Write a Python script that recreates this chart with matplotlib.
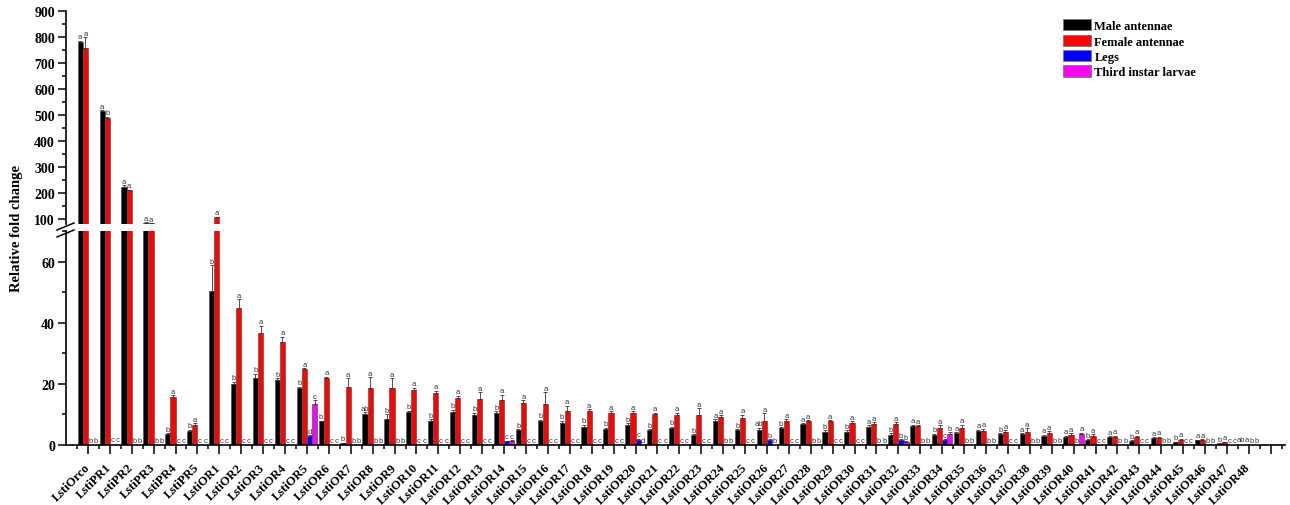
import numpy as np
import matplotlib
matplotlib.use('Agg')
import matplotlib.pyplot as plt
from matplotlib.patches import Patch
from matplotlib.lines import Line2D
from matplotlib.ticker import MultipleLocator

plt.rcParams['font.family'] = 'Liberation Serif'
plt.rcParams['font.weight'] = 'bold'

# ----------- DATA ------------
genes = (['LstiOrco', 'LstiPR1', 'LstiPR2', 'LstiPR3', 'LstiPR4', 'LstiPR5']
         + ['LstiOR%d' % n for n in range(1, 49)])

male = [780, 514, 224, 85, 3.6, 4.7,
        50.3, 20.0, 22.0, 21.3, 18.5, 7.7, 0.5, 10.0, 8.5, 10.7,
        8.0, 10.9, 9.9, 10.5, 4.8, 7.7, 7.2, 6.0, 5.3, 6.6,
        4.8, 5.4, 3.3, 8.0, 4.9, 4.9, 5.5, 6.9, 4.4, 4.4,
        6.0, 3.3, 6.3, 3.3, 3.9, 4.6, 3.5, 3.5, 3.0, 2.7,
        1.6, 2.7, 1.3, 2.4, 0.9, 1.5, 0.5, 0.3]
female = [758, 488, 209, 82, 15.7, 6.7,
          106.5, 44.7, 36.7, 33.8, 24.7, 21.9, 18.9, 18.6, 18.6, 18.1,
          17.1, 15.4, 15.2, 14.7, 13.7, 13.4, 11.2, 11.2, 10.5, 10.5,
          10.1, 9.9, 9.9, 9.1, 8.9, 8.0, 8.0, 7.7, 7.7, 7.2,
          6.9, 6.8, 6.1, 5.7, 5.7, 4.6, 4.4, 4.4, 3.9, 3.3,
          3.1, 2.7, 2.5, 2.4, 1.7, 1.5, 0.9, 0.3]
legs = [0.3, 0.4, 0.1, 0.1, 0.1, 0.1,
        0.1, 0.1, 0.1, 0.1, 2.8, 0.1, 0.1, 0.1, 0.1, 0.1,
        0.1, 0.1, 0.3, 1.2, 0.1, 0.1, 0.1, 0.1, 0.1, 1.7,
        0.1, 0.1, 0.1, 0.1, 0.1, 1.6, 0.1, 0.2, 0.1, 0.1,
        0.1, 1.5, 0.1, 1.5, 0.1, 0.1, 0.1, 0.1, 0.1, 0.3,
        0.1, 0.1, 0.1, 0.1, 0.1, 0.1, 0.1, 0.1]
larvae = [0.1, 0.4, 0.1, 0.1, 0.1, 0.1,
          0.1, 0.1, 0.1, 0.1, 13.4, 0.1, 0.1, 0.1, 0.1, 0.1,
          0.1, 0.1, 0.1, 1.4, 0.1, 0.1, 0.1, 0.1, 0.1, 0.2,
          0.1, 0.1, 0.1, 0.1, 0.1, 0.3, 0.1, 0.1, 0.1, 0.1,
          0.1, 1.1, 0.1, 3.7, 0.1, 0.1, 0.1, 0.1, 0.1, 3.7,
          0.1, 0.1, 0.1, 0.1, 0.1, 0.1, 0.1, 0.1]

male_err = [5, 5, 5, 3, 0.3, 0.3,
            8.5, 0.7, 1.3, 0.5, 0.5, 0.3, 0.2, 0.8, 1.5, 0.5,
            0.4, 0.6, 0.6, 0.5, 0.4, 0.6, 0.7, 0.6, 0.4, 0.5,
            0.3, 0.6, 0.3, 0.4, 0.3, 0.7, 0.4, 0.3, 0.5, 0.4,
            0.4, 0.6, 0.3, 0.4, 0.3, 0.4, 0.3, 0.3, 0.3, 0.3,
            0.3, 0.2, 0.3, 0.2, 0.2, 0.2, 0.1, 0.1]
female_err = [42, 5, 3, 1, 0.5, 0.4,
              2, 3, 2.3, 1.6, 0.5, 0.5, 3, 3.6, 3.3, 0.7,
              0.7, 0.7, 2, 1.7, 1, 3.9, 1.7, 0.5, 0.5, 0.6,
              0.5, 0.6, 2.2, 0.7, 1, 2.4, 0.5, 0.4, 0.5, 0.6,
              0.5, 0.7, 0.4, 0.8, 1, 0.7, 0.4, 1, 0.7, 0.5,
              0.5, 0.3, 0.5, 0.3, 0.3, 0.3, 0.2, 0.1]
legs_err = [0.05, 0.05, 0.05, 0.05, 0.05, 0.05,
            0.05, 0.05, 0.05, 0.05, 0.4, 0.05, 0.05, 0.05, 0.05, 0.05,
            0.05, 0.05, 0.05, 0.2, 0.05, 0.05, 0.05, 0.05, 0.05, 0.3,
            0.05, 0.05, 0.05, 0.05, 0.05, 0.3, 0.05, 0.05, 0.05, 0.05,
            0.05, 0.3, 0.05, 0.3, 0.05, 0.05, 0.05, 0.05, 0.05, 0.05,
            0.05, 0.05, 0.05, 0.05, 0.05, 0.05, 0.05, 0.05]
larvae_err = [0.05, 0.05, 0.05, 0.05, 0.05, 0.05,
              0.05, 0.05, 0.05, 0.05, 1.2, 0.05, 0.05, 0.05, 0.05, 0.05,
              0.05, 0.05, 0.05, 0.2, 0.05, 0.05, 0.05, 0.05, 0.05, 0.05,
              0.05, 0.05, 0.05, 0.05, 0.05, 0.05, 0.05, 0.05, 0.05, 0.05,
              0.05, 0.2, 0.05, 0.4, 0.05, 0.05, 0.05, 0.05, 0.05, 0.3,
              0.05, 0.05, 0.05, 0.05, 0.05, 0.05, 0.05, 0.05]

male_sig = ['a', 'a', 'a', 'a', 'b', 'b',
            'b', 'b', 'b', 'b', 'b', 'b', 'b', 'ab', 'b', 'b',
            'b', 'b', 'b', 'b', 'b', 'b', 'b', 'b', 'b', 'b',
            'b', 'b', 'b', 'a', 'b', 'ab', 'b', 'a', 'b', 'b',
            'a', 'b', 'a', 'b', 'a', 'a', 'b', 'a', 'a', 'a',
            'b', 'a', 'b', 'a', 'b', 'a', 'b', 'ab']
female_sig = ['a', 'b', 'a', 'a', 'a', 'a',
              'a', 'a', 'a', 'a', 'a', 'a', 'a', 'a', 'a', 'a',
              'a', 'a', 'a', 'a', 'a', 'a', 'a', 'a', 'a', 'a',
              'a', 'a', 'a', 'a', 'a', 'a', 'a', 'a', 'a', 'a',
              'a', 'a', 'a', 'a', 'a', 'a', 'a', 'a', 'a', 'a',
              'a', 'a', 'a', 'a', 'a', 'a', 'a', 'a']
legs_sig = ['b', 'c', 'b', 'b', 'c', 'c',
            'c', 'c', 'c', 'c', 'd', 'c', 'b', 'b', 'b', 'c',
            'c', 'c', 'c', 'c', 'c', 'c', 'c', 'c', 'c', 'c',
            'c', 'c', 'c', 'b', 'c', 'b', 'c', 'b', 'c', 'c',
            'b', 'b', 'b', 'c', 'b', 'b', 'c', 'b', 'b', 'b',
            'c', 'b', 'c', 'b', 'c', 'b', 'c', 'b']
larvae_sig = ['b', 'c', 'b', 'b', 'c', 'c',
              'c', 'c', 'c', 'c', 'c', 'c', 'b', 'b', 'b', 'c',
              'c', 'c', 'c', 'c', 'c', 'c', 'c', 'c', 'c', 'd',
              'c', 'c', 'c', 'b', 'c', 'b', 'c', 'b', 'c', 'c',
              'b', 'b', 'b', 'b', 'b', 'b', 'c', 'b', 'b', 'a',
              'c', 'b', 'c', 'b', 'c', 'b', 'c', 'b']

tissues = ['Male antennae', 'Female antennae', 'Legs', 'Third instar larvae']
colors = ['#000000', '#ff0000', '#0000ff', '#ff00ff']

# ----------- FIGURE ------------
W, H = 1290, 506
fig = plt.figure(figsize=(W / 100, H / 100), dpi=100)


def px_box(l, t, r, b):
    return [l / W, 1 - b / H, (r - l) / W, (b - t) / H]


ax_top = fig.add_axes(px_box(66, 12, 1285, 225))
ax_bot = fig.add_axes(px_box(66, 232, 1285, 446))

x = np.arange(len(genes))
w = 0.235
offsets = [-1.5, -0.5, 0.5, 1.5]
series = [(male, male_err, male_sig), (female, female_err, female_sig),
          (legs, legs_err, legs_sig), (larvae, larvae_err, larvae_sig)]

for ax in (ax_top, ax_bot):
    for (vals, errs, sig), k, col in zip(series, offsets, colors):
        xs = x + k * w
        ax.bar(xs, vals, w, color=col, edgecolor='#555555', linewidth=0.5, zorder=2)
        ax.errorbar(xs, vals, yerr=[np.zeros(len(vals)), errs], fmt='none',
                    ecolor='#333333', elinewidth=0.6, capsize=1.3, capthick=0.6, zorder=3)

# significance letters above each bar
for (vals, errs, sig), k in zip(series, offsets):
    for i in range(len(genes)):
        ax = ax_top if vals[i] > 70 else ax_bot
        ax.annotate(sig[i], (x[i] + k * w, vals[i] + errs[i]), xytext=(0, 0.3),
                    textcoords='offset points', ha='center', va='bottom',
                    fontsize=5.5, family='Liberation Sans', fontweight='normal',
                    color='#333333', annotation_clip=False)

for ax in (ax_top, ax_bot):
    ax.set_xlim(-1, 54.65)
    for s in ('top', 'right'):
        ax.spines[s].set_visible(False)
    ax.spines['left'].set_linewidth(1.2)
    ax.spines['bottom'].set_linewidth(1.2)
    ax.tick_params(axis='y', which='major', direction='out', length=6, width=1.1,
                   labelsize=10, pad=2)
    ax.tick_params(axis='y', which='minor', direction='out', length=3, width=1.1)

ax_top.set_ylim(80, 900)
ax_top.yaxis.set_major_locator(MultipleLocator(100))
ax_top.yaxis.set_minor_locator(MultipleLocator(50))
ax_top.spines['bottom'].set_visible(False)
ax_top.set_xticks([])

ax_bot.set_ylim(0, 70)
ax_bot.yaxis.set_major_locator(MultipleLocator(20))
ax_bot.yaxis.set_minor_locator(MultipleLocator(10))
ax_bot.set_xticks(np.arange(len(genes) + 1))
ax_bot.set_xticklabels(genes + [''], rotation=45, ha='right', va='center',
                       rotation_mode='anchor', fontsize=9)
ax_bot.set_xticks(np.arange(-0.5, len(genes) + 1, 1), minor=True)
ax_bot.tick_params(axis='x', which='major', direction='out', length=6.5, width=1.1, pad=8)
ax_bot.tick_params(axis='x', which='minor', direction='out', length=3, width=1.1)

# break marks on the y axis
for y0 in (231, 238):
    fig.add_artist(Line2D([57 / W, 74 / W], [1 - y0 / H, 1 - (y0 - 7) / H],
                          color='black', lw=1.1))

fig.text(17 / W, 1 - 228 / H, 'Relative fold change', rotation=90,
         ha='center', va='center', fontsize=10.5, fontweight='bold')

handles = [Patch(facecolor=c, edgecolor='#777777', linewidth=0.6) for c in colors]
fig.legend(handles, tissues, loc='upper left', bbox_to_anchor=(1057 / W, 1 - 14 / H),
           frameon=False, borderpad=0, handlelength=2.2, handleheight=1.0,
           labelspacing=0.2, handletextpad=0.3,
           prop={'family': 'Liberation Serif', 'weight': 'bold', 'size': 9})

fig.savefig('out.png', dpi=100)
